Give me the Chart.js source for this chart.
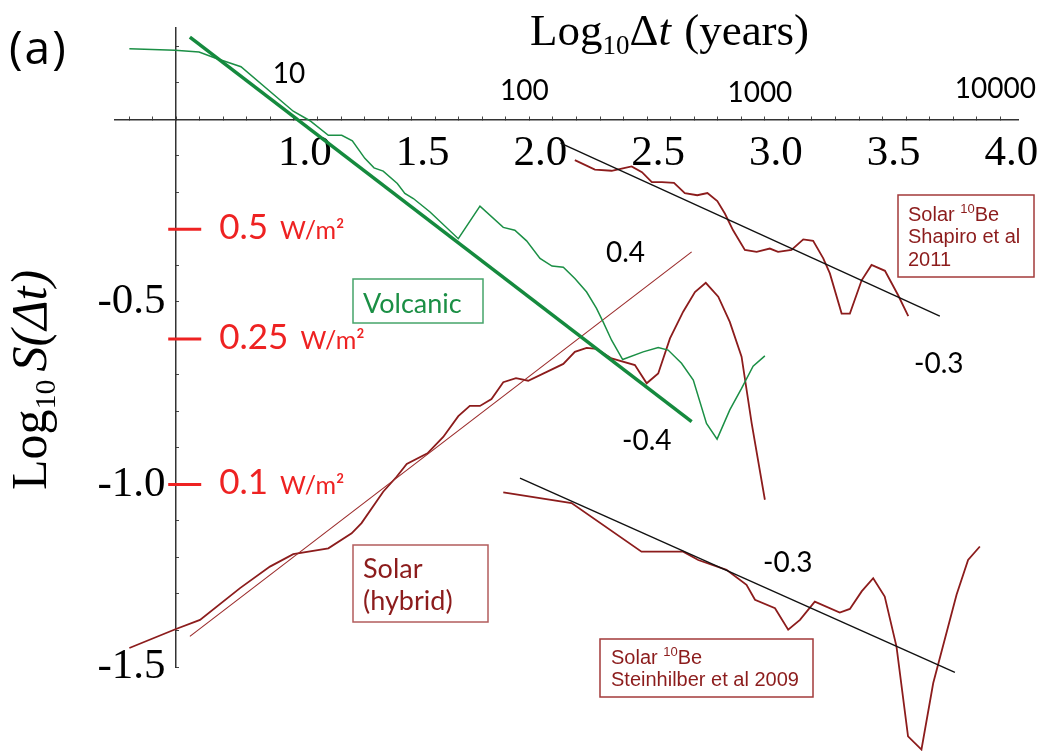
<!DOCTYPE html>
<html>
<head>
<meta charset="utf-8">
<script src="https://cdn.jsdelivr.net/npm/chart.js@4.4.1/dist/chart.umd.min.js"></script>
<style>
  html, body { margin: 0; padding: 0; background: #fff; }
  #wrap { width: 1045px; height: 751px; }
</style>
</head>
<body>
<div id="wrap"><canvas id="chart" width="1045" height="751"></canvas></div>
<script>
// Log10 of time lag (years) and Log10 of fluctuation
const volcanicT = [0.301, 0.495, 0.597, 0.665, 0.775, 0.997, 1.068, 1.146, 1.203, 1.248, 1.301, 1.340, 1.379, 1.439, 1.471, 1.507, 1.578, 1.698, 1.790, 1.889, 1.938, 1.988, 2.045, 2.096, 2.144, 2.193, 2.243, 2.285, 2.313, 2.349, 2.396, 2.483, 2.547, 2.589, 2.646, 2.696, 2.752, 2.797, 2.851, 2.901, 2.950, 3.000];
const volcanicS = [0.193, 0.189, 0.184, 0.168, 0.144, 0.022, -0.004, -0.044, -0.044, -0.059, -0.107, -0.133, -0.142, -0.176, -0.203, -0.217, -0.254, -0.327, -0.238, -0.296, -0.304, -0.333, -0.381, -0.402, -0.405, -0.436, -0.473, -0.518, -0.555, -0.605, -0.658, -0.637, -0.625, -0.632, -0.668, -0.714, -0.833, -0.876, -0.796, -0.737, -0.676, -0.648];

const hybridT = [0.301, 0.499, 0.601, 0.771, 0.898, 0.997, 1.146, 1.245, 1.287, 1.379, 1.436, 1.479, 1.567, 1.634, 1.698, 1.747, 1.790, 1.839, 1.889, 1.943, 1.995, 2.144, 2.193, 2.243, 2.285, 2.349, 2.448, 2.498, 2.547, 2.597, 2.653, 2.703, 2.749, 2.802, 2.851, 2.901, 2.944, 3.000];
const hybridS = [-1.448, -1.396, -1.371, -1.284, -1.225, -1.191, -1.175, -1.134, -1.106, -1.020, -0.979, -0.944, -0.915, -0.870, -0.813, -0.785, -0.785, -0.766, -0.720, -0.709, -0.716, -0.670, -0.637, -0.626, -0.629, -0.655, -0.673, -0.723, -0.696, -0.600, -0.527, -0.473, -0.448, -0.486, -0.555, -0.650, -0.833, -1.042];

const shapiroT = [2.193, 2.278, 2.349, 2.392, 2.434, 2.478, 2.520, 2.563, 2.614, 2.660, 2.713, 2.756, 2.798, 2.830, 2.865, 2.915, 2.965, 3.021, 3.056, 3.113, 3.163, 3.205, 3.248, 3.276, 3.326, 3.361, 3.411, 3.453, 3.510, 3.566, 3.609];
const shapiroS = [-0.112, -0.138, -0.141, -0.135, -0.129, -0.145, -0.172, -0.172, -0.174, -0.202, -0.208, -0.202, -0.224, -0.258, -0.304, -0.358, -0.363, -0.354, -0.363, -0.358, -0.329, -0.333, -0.381, -0.422, -0.532, -0.532, -0.441, -0.399, -0.415, -0.482, -0.539];

const steinT = [1.889, 2.179, 2.476, 2.653, 2.717, 2.837, 2.922, 2.958, 3.043, 3.099, 3.149, 3.212, 3.318, 3.361, 3.411, 3.460, 3.509, 3.559, 3.608, 3.665, 3.715, 3.814, 3.863, 3.913];
const steinS = [-1.022, -1.051, -1.184, -1.184, -1.207, -1.234, -1.275, -1.316, -1.339, -1.398, -1.371, -1.321, -1.351, -1.341, -1.293, -1.257, -1.307, -1.444, -1.690, -1.726, -1.544, -1.302, -1.207, -1.170];

// fitted scaling lines (end points)
const volcanicFitT = [0.558, 2.689], volcanicFitS = [0.225, -0.828];
const hybridFitT = [0.558, 2.689], hybridFitS = [-1.416, -0.363];
const shapiroFitT = [2.132, 3.743], shapiroFitS = [-0.065, -0.539];
const steinFitT = [1.960, 3.807], steinFitS = [-0.983, -1.515];

// axis labels
const xLabelValues = [1, 1.5, 2, 2.5, 3, 3.5, 4];
const yLabelValues = [-0.5, -1, -1.5];
const yearValues = [1, 2, 3, 4];
const yearLabels = ['10', '100', '1000', '10000'];
const fluxValues = [0.5, 0.25, 0.1];
const fluxLabels = ['0.5', '0.25', '0.1'];

const GREEN = '#1b8f45';
const DARKRED = '#8c1c1c';

function pts(xs, ys) {
    return xs.map((x, i) => ({ x, y: ys[i] }));
}

function line(data, color, width) {
    return {
        data, borderColor: color, borderWidth: width,
        pointRadius: 0, tension: 0, fill: false, clip: false
    };
}

function isLabel(list, v) {
    return list.some(l => Math.abs(l - v) < 1e-6);
}

// axes sit inside the plot, so they must not take any layout room
function noRoom(s) {
    if (s.isHorizontal()) s.height = 0; else s.width = 0;
    s.paddingTop = s.paddingBottom = s.paddingLeft = s.paddingRight = 0;
}

// draws text pieces one after another on a common baseline
function runs(ctx, x, y, parts) {
    parts.forEach(p => {
        ctx.font = p.font;
        ctx.fillText(p.t, x, y + (p.dy || 0));
        x += ctx.measureText(p.t).width + (p.gap || 0);
    });
}

function box(ctx, x1, y1, x2, y2, color) {
    ctx.strokeStyle = color;
    ctx.lineWidth = 1.5;
    ctx.strokeRect(x1, y1, x2 - x1, y2 - y1);
}

const annotate = {
    id: 'annotate',
    afterDraw(chart) {
        const ctx = chart.ctx;
        const xs = chart.scales.x, ys = chart.scales.y;
        const axisX = xs.getPixelForValue(0.5);
        ctx.save();
        ctx.textAlign = 'left';
        ctx.textBaseline = 'alphabetic';

        // panel letter
        ctx.fillStyle = '#000';
        runs(ctx, 9, 64, [
            { t: '(', font: '46px "Open Sans"', gap: 2 },
            { t: 'a', font: '46px "Open Sans"', gap: 2 },
            { t: ')', font: '46px "Open Sans"' }
        ]);

        // axis titles
        const serif = '"Liberation Serif"';
        runs(ctx, 530, 45, [
            { t: 'Log', font: '45px ' + serif },
            { t: '10', font: '27px ' + serif, dy: 9 },
            { t: '\u0394', font: '45px ' + serif },
            { t: 't', font: 'italic 45px ' + serif, gap: 2 },
            { t: ' (years)', font: '45px ' + serif }
        ]);
        ctx.save();
        ctx.translate(46, 490);
        ctx.rotate(-Math.PI / 2);
        runs(ctx, 0, 0, [
            { t: 'Log', font: '50px ' + serif },
            { t: '10', font: '30px ' + serif, dy: 9, gap: 8 },
            { t: 'S(\u0394t)', font: 'italic 50px ' + serif }
        ]);
        ctx.restore();

        // time labels in years
        const yearBase = [83, 100, 102, 98];
        ctx.font = '28px Lato';
        ctx.textAlign = 'center';
        yearValues.forEach((v, i) => {
            ctx.fillText(yearLabels[i], xs.getPixelForValue(v) - 5, yearBase[i]);
        });
        ctx.textAlign = 'left';

        // forcing levels in W/m2
        fluxValues.forEach((v, i) => {
            const py = ys.getPixelForValue(Math.log10(v));
            ctx.strokeStyle = '#ee2222';
            ctx.lineWidth = 3;
            ctx.beginPath();
            ctx.moveTo(axisX - 8, py);
            ctx.lineTo(axisX + 25, py);
            ctx.stroke();
            ctx.fillStyle = '#ee2222';
            runs(ctx, axisX + 43, py + 10, [
                { t: fluxLabels[i], font: '35px Lato', gap: 12 },
                { t: 'W/m\u00b2', font: '25px Lato' }
            ]);
        });

        // slope values
        ctx.fillStyle = '#000';
        ctx.font = '28px Lato';
        ctx.fillText('0.4', 606, 262);
        ctx.fillText('-0.4', 622, 450);
        ctx.fillText('-0.3', 914, 373);
        ctx.fillText('-0.3', 763, 572);

        // series boxes
        box(ctx, 353, 279, 483, 323, '#46a46a');
        ctx.fillStyle = GREEN;
        ctx.font = '27px Lato';
        ctx.fillText('Volcanic', 363, 313);

        box(ctx, 353, 545, 488, 622, '#b25c5c');
        ctx.fillStyle = DARKRED;
        ctx.fillText('Solar', 363, 578);
        ctx.fillText('(hybrid)', 363, 610);

        const sans = '"Liberation Sans"';
        box(ctx, 898, 195, 1034, 277, '#a33a3a');
        runs(ctx, 908, 221, [
            { t: 'Solar ', font: '20px ' + sans },
            { t: '10', font: '13px ' + sans, dy: -8 },
            { t: 'Be', font: '20px ' + sans }
        ]);
        ctx.font = '20px ' + sans;
        ctx.fillText('Shapiro et al', 908, 243);
        ctx.fillText('2011', 908, 266);

        box(ctx, 600, 639, 813, 697, '#a33a3a');
        runs(ctx, 611, 664, [
            { t: 'Solar ', font: '20px ' + sans },
            { t: '10', font: '13px ' + sans, dy: -8 },
            { t: 'Be', font: '20px ' + sans }
        ]);
        ctx.font = '20px ' + sans;
        ctx.fillText('Steinhilber et al 2009', 611, 686);

        ctx.restore();
    }
};

new Chart(document.getElementById('chart'), {
    type: 'line',
    data: {
        datasets: [
            line(pts(volcanicFitT, volcanicFitS), '#158a3e', 3.5),
            line(pts(volcanicT, volcanicS), GREEN, 1.5),
            line(pts(hybridFitT, hybridFitS), '#9a2a2a', 1.1),
            line(pts(hybridT, hybridS), DARKRED, 1.8),
            line(pts(shapiroFitT, shapiroFitS), '#111', 1.4),
            line(pts(shapiroT, shapiroS), DARKRED, 1.8),
            line(pts(steinFitT, steinFitS), '#111', 1.4),
            line(pts(steinT, steinS), DARKRED, 1.8)
        ]
    },
    options: {
        responsive: false,
        animation: false,
        events: [],
        layout: { padding: { left: 115, right: 27, top: 28, bottom: 84 } },
        plugins: { legend: { display: false }, tooltip: { enabled: false } },
        scales: {
            x: {
                type: 'linear',
                min: 0.24, max: 4.075,
                position: { y: 0 },
                afterFit: noRoom,
                border: { color: '#333', width: 1.5 },
                grid: { drawOnChartArea: false, tickLength: -4, color: '#444' },
                ticks: {
                    stepSize: 0.1, includeBounds: false, autoSkip: false, maxRotation: 0,
                    padding: 13, labelOffset: 11,
                    color: '#000', font: { family: 'Liberation Serif', size: 43 },
                    callback: v => isLabel(xLabelValues, v) ? v.toFixed(1) : ''
                }
            },
            y: {
                type: 'linear',
                min: -1.5, max: 0.25,
                position: { x: 0.5 },
                afterFit: noRoom,
                border: { color: '#333', width: 1.5 },
                grid: { drawOnChartArea: false, tickLength: -4, color: '#444' },
                ticks: {
                    stepSize: 0.1, includeBounds: false, autoSkip: false,
                    color: '#000', font: { family: 'Liberation Serif', size: 43 },
                    // trailing space keeps the label clear of the axis line
                    callback: v => isLabel(yLabelValues, v) ? '-' + Math.abs(v).toFixed(1) + ' ' : ''
                }
            }
        }
    },
    plugins: [annotate]
});
</script>
</body>
</html>
